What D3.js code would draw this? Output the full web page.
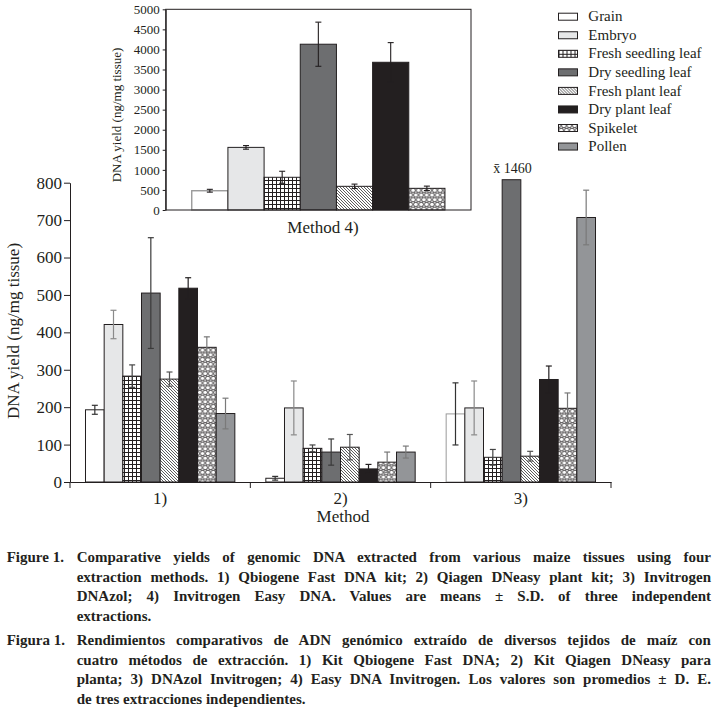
<!DOCTYPE html>
<html lang="en">
<head>
<meta charset="UTF-8">
<title>DNA yield by method</title>
<script src="https://cdn.jsdelivr.net/npm/d3@7"></script>
<style>
  html, body { margin: 0; padding: 0; background: #fff; }
  svg { display: block; font-family: "Liberation Serif", "DejaVu Serif", serif; }
  text { fill: #231f20; }
</style>
</head>
<body>
<svg id="chart" width="715" height="718"></svg>
<script>
// ---- data ----
const tissues = ["Grain", "Embryo", "Fresh seedling leaf", "Dry seedling leaf",
  "Fresh plant leaf", "Dry plant leaf", "Spikelet", "Pollen"];
const methods = ["1)", "2)", "3)"];

const meanM1 = [193, 421, 283, 505, 275, 518, 360, 183];
const sdM1   = [12, 38, 30, 148, 19, 28, 28, 41];
const meanM2 = [10, 198, 90, 80, 93, 35, 53, 80];
const sdM2   = [5, 72, 9, 35, 34, 12, 27, 16];
const meanM3 = [182, 198, 66, 1460, 69, 274, 197, 707];
const sdM3   = [83, 72, 21, null, 13, 36, 41, 73];

// inset: method 4 (no pollen)
const insetTissues = tissues.slice(0, 7);
const meanM4 = [480, 1560, 815, 4130, 590, 3680, 540];
const sdM4   = [35, 45, 150, 550, 55, 490, 55];

const mainTicks  = [0, 100, 200, 300, 400, 500, 600, 700, 800];
const insetTicks = [0, 500, 1000, 1500, 2000, 2500, 3000, 3500, 4000, 4500, 5000];

const captionEn = [
  "Comparative yields of genomic DNA extracted from various maize tissues using four",
  "extraction methods. 1) Qbiogene Fast DNA kit; 2) Qiagen DNeasy plant kit; 3) Invitrogen",
  "DNAzol; 4) Invitrogen Easy DNA. Values are means \u00b1 S.D. of three independent",
  "extractions."
];
const captionEs = [
  "Rendimientos comparativos de ADN genómico extraído de diversos tejidos de maíz con",
  "cuatro métodos de extracción. 1) Kit Qbiogene Fast DNA; 2) Kit Qiagen DNeasy para",
  "planta; 3) DNAzol Invitrogen; 4) Easy DNA Invitrogen. Los valores son promedios \u00b1 D. E.",
  "de tres extracciones independientes."
];

// ---- styling ----
const ink = "#231f20";
const fills = ["#ffffff", "#e6e7e8", "url(#grid)", "#6d6e70", "url(#diag)", ink, "url(#dots)", "#939598"];
const errColors = ["#333", "#8a8a8a", "#444", "#3a3a3a", "#555", ink, "#777", "#7a7a7a"];
const yCap = 808; // the 1460 bar is cut just above the 800 line

const svg = d3.select("#chart");

// patterns
const defs = svg.append("defs");
const grid = defs.append("pattern").attr("id", "grid")
  .attr("patternUnits", "userSpaceOnUse").attr("width", 4).attr("height", 4);
grid.append("rect").attr("width", 4).attr("height", 4).attr("fill", "#fff");
grid.append("path").attr("d", "M0,0.5H4M0.5,0V4").attr("stroke", ink).attr("stroke-width", 1);

const diag = defs.append("pattern").attr("id", "diag")
  .attr("patternUnits", "userSpaceOnUse").attr("width", 3).attr("height", 3);
diag.append("rect").attr("width", 3).attr("height", 3).attr("fill", "#fff");
diag.append("path").attr("d", "M-1,-1L4,4M-1,2L1,4M2,-1L4,1")
  .attr("stroke", "#333").attr("stroke-width", 0.8);

const dots = defs.append("pattern").attr("id", "dots")
  .attr("patternUnits", "userSpaceOnUse").attr("width", 5.4).attr("height", 9.4);
dots.append("rect").attr("width", 5.4).attr("height", 9.4).attr("fill", "#fff");
[[2.7, 2.35], [0, 7.05], [5.4, 7.05], [0, -2.35], [5.4, -2.35], [2.7, 11.75]].forEach(([cx, cy]) => {
  dots.append("circle").attr("cx", cx).attr("cy", cy).attr("r", 2.2)
    .attr("fill", "#fff").attr("stroke", ink).attr("stroke-width", 0.8);
});

// ---- main chart ----
const y = d3.scaleLinear().domain([0, 800]).range([482, 182.7]);
const x0 = d3.scaleBand().domain(methods).range([70, 611]);
const x1 = d3.scaleBand().domain(tissues).range([0, x0.bandwidth()]).paddingOuter(0.83);

const means = [meanM1, meanM2, meanM3];
const sds = [sdM1, sdM2, sdM3];
const rows = methods.flatMap((m, i) => tissues.map((t, j) => ({
  method: m, tissue: t, idx: j, mean: means[i][j], sd: sds[i][j]
})));

const main = svg.append("g").attr("class", "main");

main.selectAll("rect.bar").data(rows).enter().append("rect")
  .attr("class", "bar")
  .attr("x", d => x0(d.method) + x1(d.tissue))
  .attr("y", d => y(Math.min(d.mean, yCap)))
  .attr("width", x1.bandwidth())
  .attr("height", d => y(0) - y(Math.min(d.mean, yCap)))
  .attr("fill", d => fills[d.idx])
  .attr("stroke", d => (d.idx === 0 && d.method === "3)") ? "#9a9a9a" : ink)
  .attr("stroke-width", 1);

const errRows = rows.filter(d => d.sd != null);
const eb = main.selectAll("g.err").data(errRows).enter().append("g")
  .attr("class", "err")
  .attr("stroke", d => errColors[d.idx]).attr("stroke-width", 1.2)
  .attr("transform", d => `translate(${x0(d.method) + x1(d.tissue) + x1.bandwidth() / 2},0)`);
eb.append("line").attr("y1", d => y(d.mean + d.sd)).attr("y2", d => y(Math.max(d.mean - d.sd, 0)));
eb.append("line").attr("x1", -3).attr("x2", 3).attr("y1", d => y(d.mean + d.sd)).attr("y2", d => y(d.mean + d.sd));
eb.append("line").attr("x1", -3).attr("x2", 3)
  .attr("y1", d => y(Math.max(d.mean - d.sd, 0))).attr("y2", d => y(Math.max(d.mean - d.sd, 0)));

// label over the clipped bar
rows.filter(d => d.mean > yCap).forEach(d => {
  main.append("text")
    .attr("x", x0(d.method) + x1(d.tissue) + x1.bandwidth() / 2 + 1)
    .attr("y", y(yCap) - 7)
    .attr("text-anchor", "middle")
    .attr("font-size", 14)
    .text("x\u0304 " + d.mean);
});

// axes
main.append("g").attr("transform", "translate(70,0)")
  .call(d3.axisLeft(y).tickValues(mainTicks).tickFormat(d3.format("d"))
    .tickSize(6).tickSizeOuter(0).tickPadding(2))
  .attr("font-family", null).attr("font-size", 17).attr("color", ink);

const xAxis = main.append("g").attr("transform", `translate(0,${y(0)})`)
  .call(d3.axisBottom(x0).tickSize(0).tickSizeOuter(0).tickPadding(10))
  .attr("font-family", null).attr("font-size", 17).attr("color", ink);
xAxis.selectAll(".bound").data([...methods.map(m => x0(m)), x0.range()[1]]).enter()
  .append("line").attr("class", "bound")
  .attr("x1", d => d).attr("x2", d => d).attr("y1", 0).attr("y2", 6)
  .attr("stroke", ink);

main.append("text").attr("x", 343).attr("y", 522).attr("text-anchor", "middle")
  .attr("font-size", 17).text("Method");
main.append("text").attr("transform", "translate(19,331) rotate(-90)")
  .attr("text-anchor", "middle").attr("font-size", 17).text("DNA yield (ng/mg tissue)");

// ---- inset: method 4 ----
const yIn = d3.scaleLinear().domain([0, 5000]).range([210, 9.3]);
const xIn = d3.scaleBand().domain(insetTissues).range([165.7, 471]).paddingOuter(0.72);
const inset = svg.append("g").attr("class", "inset");

inset.append("rect").attr("x", 165.7).attr("y", yIn(5000))
  .attr("width", 471 - 165.7).attr("height", yIn(0) - yIn(5000)).attr("fill", "#fff");

const insetRows = insetTissues.map((t, j) => ({ tissue: t, idx: j, mean: meanM4[j], sd: sdM4[j] }));
inset.selectAll("rect.bar").data(insetRows).enter().append("rect")
  .attr("class", "bar")
  .attr("x", d => xIn(d.tissue))
  .attr("y", d => yIn(d.mean))
  .attr("width", xIn.bandwidth())
  .attr("height", d => yIn(0) - yIn(d.mean))
  .attr("fill", d => fills[d.idx])
  .attr("stroke", d => d.idx === 0 ? "#9a9a9a" : ink)
  .attr("stroke-width", d => d.idx === 0 ? 1.4 : 1);

const ebIn = inset.selectAll("g.err").data(insetRows).enter().append("g")
  .attr("class", "err").attr("stroke", ink).attr("stroke-width", 1.1)
  .attr("transform", d => `translate(${xIn(d.tissue) + xIn.bandwidth() / 2},0)`);
ebIn.append("line").attr("y1", d => yIn(d.mean + d.sd)).attr("y2", d => yIn(d.mean - d.sd));
ebIn.append("line").attr("x1", -3).attr("x2", 3).attr("y1", d => yIn(d.mean + d.sd)).attr("y2", d => yIn(d.mean + d.sd));
ebIn.append("line").attr("x1", -3).attr("x2", 3).attr("y1", d => yIn(d.mean - d.sd)).attr("y2", d => yIn(d.mean - d.sd));

inset.append("rect").attr("x", 165.7).attr("y", yIn(5000))
  .attr("width", 471 - 165.7).attr("height", yIn(0) - yIn(5000))
  .attr("fill", "none").attr("stroke", ink).attr("stroke-width", 1);

inset.append("g").attr("transform", "translate(165.7,0)")
  .call(d3.axisLeft(yIn).tickValues(insetTicks).tickFormat(d3.format("d"))
    .tickSize(3).tickSizeOuter(0).tickPadding(3))
  .attr("font-family", null).attr("font-size", 13).attr("color", ink);

inset.append("text").attr("transform", "translate(121,115) rotate(-90)")
  .attr("text-anchor", "middle").attr("font-size", 13).text("DNA yield (ng/mg tissue)");
inset.append("text").attr("x", 323).attr("y", 233).attr("text-anchor", "middle")
  .attr("font-size", 17).text("Method 4)");

// ---- legend ----
const legend = svg.append("g").attr("class", "legend");
const lg = legend.selectAll("g").data(tissues).enter().append("g")
  .attr("transform", (d, i) => `translate(558.5,${16.7 + i * 18.55})`);
lg.append("rect").attr("x", 0).attr("y", -3.5).attr("width", 19).attr("height", 7)
  .attr("fill", (d, i) => fills[i]).attr("stroke", ink).attr("stroke-width", 1);
lg.append("text").attr("x", 29.8).attr("y", 4.6).attr("font-size", 15).text(d => d);

// ---- caption ----
const cap = svg.append("g").attr("class", "caption")
  .attr("font-size", 15).attr("font-weight", "bold");
const capLeft = 76.7, capRight = 711;

function para(label, lines, y0) {
  cap.append("text").attr("x", 6.7).attr("y", y0).text(label);
  lines.forEach((line, i) => {
    const t = cap.append("text").attr("x", capLeft).attr("y", y0 + i * 19.5).text(line);
    if (i < lines.length - 1) {
      const spaces = (line.match(/ /g) || []).length;
      const natural = t.node().getComputedTextLength();
      t.attr("word-spacing", ((capRight - capLeft - natural) / spaces).toFixed(2));
    }
  });
}
para("Figure 1.", captionEn, 562);
para("Figura 1.", captionEs, 645);
</script>
</body>
</html>
